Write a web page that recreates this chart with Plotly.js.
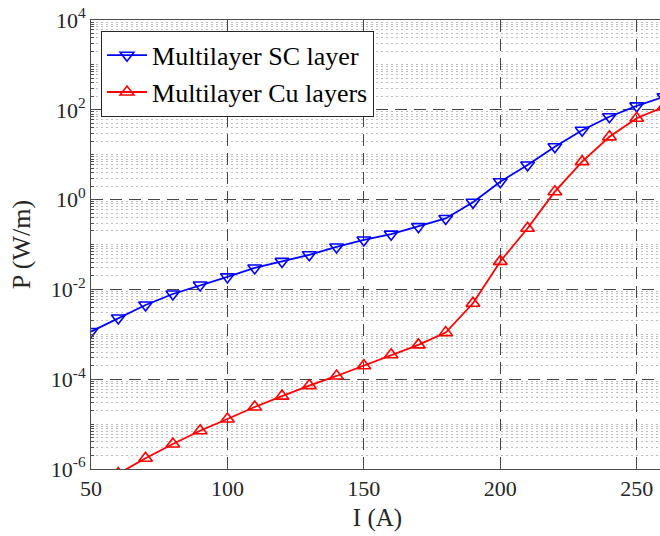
<!DOCTYPE html>
<html>
<head>
<meta charset="utf-8">
<script src="https://cdn.plot.ly/plotly-3.0.1.min.js"></script>
<style>
html,body{margin:0;padding:0;overflow:hidden;background:#fff;}
#chart{width:680px;height:536px;}
</style>
</head>
<body>
<div id="chart"></div>
<script>
// Current I (A)
const currentSC = [50,60,70,80,90,100,110,120,130,140,150,160,170,180,190,200,210,220,230,240,250,260];
const powerSC = [1.15e-3,2.3e-3,4.5e-3,7.9e-3,1.25e-2,1.9e-2,3.0e-2,4.2e-2,5.9e-2,8.8e-2,0.126,0.17,0.25,0.38,0.87,2.5,5.9,15,35,70,122,195];

const currentCu = [60,70,80,90,100,110,120,130,140,150,160,170,180,190,200,210,220,230,240,250,260];
const powerCu = [7.9e-7,1.73e-6,3.6e-6,7.1e-6,1.3e-5,2.4e-5,4.2e-5,7.2e-5,1.18e-4,2.0e-4,3.5e-4,5.8e-4,1.09e-3,4.9e-3,4.2e-2,0.23,1.5,7.0,25,65,116];

const seriesNames = ["Multilayer SC layer","Multilayer Cu layers"];
const yTickExp = [-6,-4,-2,0,2,4];
const xTickVals = [50,100,150,200,250];

const font = "Liberation Serif, Times New Roman, serif";
const yTickVals = yTickExp.map(e => Math.pow(10,e));
const yTickText = yTickExp.map(e => "10<sup>" + e + "</sup>");
const minorY = [];
for (let e = -6; e < 4; e++) {
  for (let m = 1; m <= 9; m++) {
    if (m === 1 && e % 2 === 0) continue;
    minorY.push(m * Math.pow(10, e));
  }
}

const traces = [
  {
    x: currentSC, y: powerSC, name: seriesNames[0], type: "scatter", mode: "lines+markers",
    line: {color: "#0000ff", width: 1.8},
    marker: {symbol: "triangle-down-open", size: 12, color: "#0000ff", line: {width: 1.6, color: "#0000ff"}}
  },
  {
    x: currentCu, y: powerCu, name: seriesNames[1], type: "scatter", mode: "lines+markers",
    line: {color: "#ff0000", width: 1.8},
    marker: {symbol: "triangle-up-open", size: 12, color: "#ff0000", line: {width: 1.6, color: "#ff0000"}}
  }
];

const layout = {
  width: 680, height: 536,
  margin: {l: 91, r: 16, t: 20, b: 67},
  paper_bgcolor: "#fff", plot_bgcolor: "#fff",
  font: {family: font, color: "#262626", size: 22},
  showlegend: true,
  legend: {
    x: 0.0175, y: 0.976, xanchor: "left", yanchor: "top",
    bgcolor: "#fff", bordercolor: "#262626", borderwidth: 1,
    font: {family: font, size: 26, color: "#000"},
    itemwidth: 40, tracegroupgap: 0
  },
  xaxis: {
    range: [50, 260],
    tickmode: "array", tickvals: xTickVals,
    ticks: "inside", ticklen: 6, tickcolor: "#4d4d4d",
    showline: true, linecolor: "#4d4d4d", linewidth: 1, mirror: true,
    showgrid: true, gridcolor: "#444444", gridwidth: 1, griddash: "12px,7px",
    zeroline: false,
    tickfont: {family: font, size: 22, color: "#262626"},
    title: {text: "I (A)", font: {family: font, size: 25, color: "#262626"}, standoff: 8}
  },
  yaxis: {
    type: "log", range: [-6, 4],
    tickmode: "array", tickvals: yTickVals, ticktext: yTickText,
    ticks: "inside", ticklen: 6, tickcolor: "#4d4d4d",
    showline: true, linecolor: "#4d4d4d", linewidth: 1, mirror: true,
    showgrid: true, gridcolor: "#444444", gridwidth: 1, griddash: "12px,7px",
    zeroline: false,
    tickfont: {family: font, size: 22, color: "#262626"},
    title: {text: "P (W/m)", font: {family: font, size: 26, color: "#262626"}, standoff: 12},
    minor: {
      tickmode: "array", tickvals: minorY,
      ticks: "inside", ticklen: 3, tickcolor: "#4d4d4d",
      showgrid: true, gridcolor: "#bdbdbd", gridwidth: 1, griddash: "2px,3px"
    }
  }
};

Plotly.newPlot("chart", traces, layout, {displayModeBar: false, staticPlot: true});
</script>
</body>
</html>
